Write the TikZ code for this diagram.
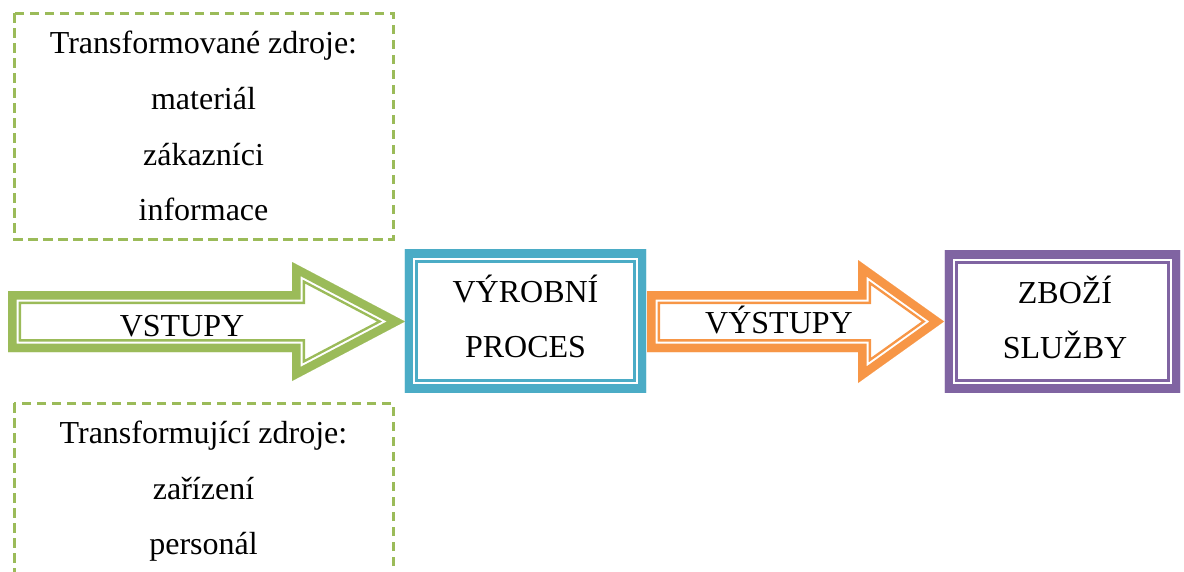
\documentclass[tikz,border=0pt]{standalone}
\usepackage{fontspec}
\setmainfont{Liberation Serif}
\definecolor{cgreen}{HTML}{9BBB59}
\definecolor{cblue}{HTML}{4BACC6}
\definecolor{corange}{HTML}{F79646}
\definecolor{cpurple}{HTML}{8064A2}

% Thick outer band, thin white gap, thin inner line: drawn by clipping to
% the outline and stroking it three times with decreasing widths.
\newcommand\bandedoutline[2]{%
  \begin{scope}
    \clip #2;
    \draw[#1, line width=26pt, line join=miter] #2;
    \draw[white, line width=21pt, line join=miter] #2;
    \draw[#1, line width=17pt, line join=miter] #2;
  \end{scope}}

\tikzset{
  lbl/.style={font=\fontsize{32}{40}\selectfont, anchor=base, inner sep=0pt},
  resbox/.style={draw=cgreen, line width=3pt, dash pattern=on 9.5pt off 5.5pt},
}

\begin{document}
\begin{tikzpicture}[x=1pt, y=-1pt]
\useasboundingbox (0,0) rectangle (1184,571);
\clip (0,0) rectangle (1184,571);

% resources (dashed boxes)
\draw[resbox] (14,13) rectangle (393,239);
\node[lbl] (t1) at (203.5,53) {Transformované zdroje:};
\node[lbl] (t2) at (203.5,109) {materiál};
\node[lbl] (t3) at (203.5,165) {zákazníci};
\node[lbl] (t4) at (203.5,220) {informace};

\draw[resbox] (14,403) rectangle (393,640);
\node[lbl] (b1) at (203.5,443) {Transformující zdroje:};
\node[lbl] (b2) at (203.5,499) {zařízení};
\node[lbl] (b3) at (203.5,554) {personál};

% inputs arrow
\bandedoutline{cgreen}{(8,291) -- (292,291) -- (292,262) -- (405,321.5) -- (292,381) -- (292,352) -- (8,352) -- cycle}
\node[lbl] (vstupy) at (182,336) {VSTUPY};

% process box
\node[minimum width=241pt, minimum height=142pt, inner sep=0pt] (proc) at (525.5,321) {};
\bandedoutline{cblue}{(proc.north west) rectangle (proc.south east)}
\node[lbl] (p1) at (525.5,302) {VÝROBNÍ};
\node[lbl] (p2) at (525.5,357) {PROCES};

% outputs arrow
\bandedoutline{corange}{(647,291) -- (858,291) -- (858,260) -- (944,321.5) -- (858,383) -- (858,352) -- (647,352) -- cycle}
\node[lbl] (vystupy) at (779,333) {VÝSTUPY};

% goods and services box
\node[minimum width=235pt, minimum height=141pt, inner sep=0pt] (goods) at (1062.5,321.5) {};
\bandedoutline{cpurple}{(goods.north west) rectangle (goods.south east)}
\node[lbl] (g1) at (1065,303) {ZBOŽÍ};
\node[lbl] (g2) at (1065,358) {SLUŽBY};
\end{tikzpicture}
\end{document}
